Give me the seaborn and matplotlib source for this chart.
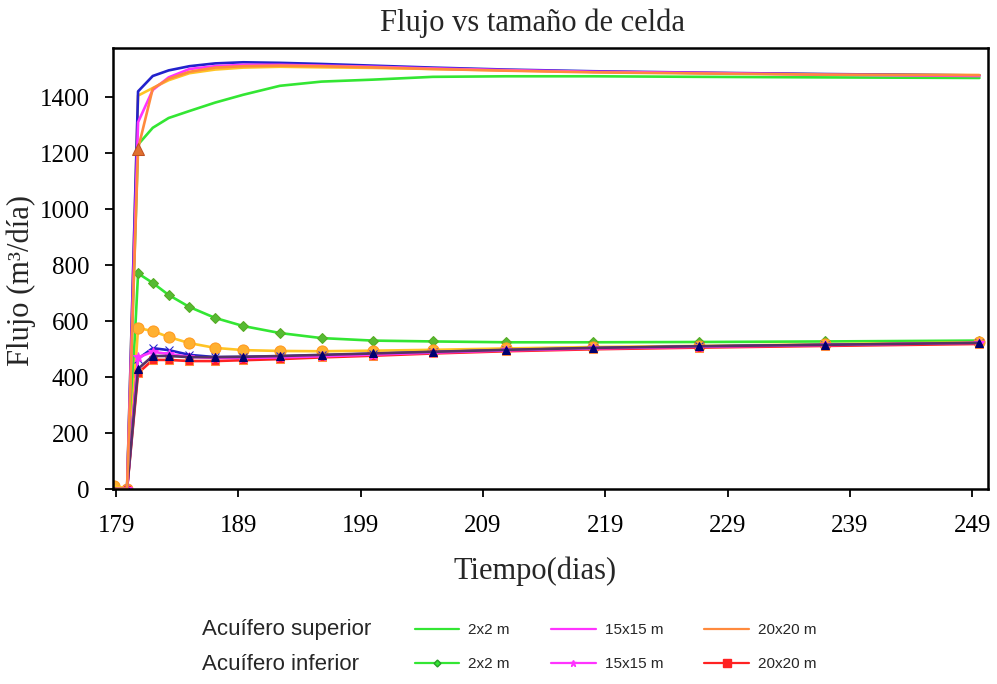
import matplotlib
matplotlib.use("Agg")
import matplotlib.pyplot as plt
import seaborn as sns
import numpy as np
import pandas as pd
from matplotlib.lines import Line2D

# ---- data ----
tiempo = [178.8, 179.9, 180.8, 182.0, 183.3, 185.0, 187.1, 189.4, 192.4,
          195.8, 200.0, 204.9, 210.9, 218.0, 226.7, 237.0, 249.6]

# upper aquifer (no markers)
sup_2x2   = [0, 0, 1230, 1290, 1325, 1350, 1380, 1408, 1440, 1455, 1462, 1472, 1474, 1474, 1472, 1470, 1468]
sup_15x15 = [0, 0, 1310, 1425, 1470, 1500, 1510, 1515, 1515, 1512, 1508, 1502, 1496, 1490, 1486, 1480, 1475]
sup_20x20 = [0, 0, 1215, 1430, 1465, 1490, 1505, 1510, 1512, 1510, 1506, 1500, 1494, 1488, 1484, 1480, 1478]
sup_azul  = [0, 0, 1420, 1475, 1495, 1510, 1520, 1524, 1522, 1518, 1512, 1505, 1498, 1492, 1487, 1482, 1477]
sup_oro   = [12, 0, 1405, 1432, 1460, 1485, 1498, 1505, 1508, 1506, 1504, 1500, 1495, 1490, 1486, 1481, 1478]

# lower aquifer (markers)
inf_2x2   = [0, 0, 770, 736, 693, 650, 611, 582, 557, 539, 530, 527, 524, 524, 525, 527, 530]
inf_15x15 = [0, 0, 470, 490, 482, 472, 468, 468, 470, 474, 480, 487, 495, 502, 508, 514, 522]
inf_20x20 = [0, 0, 414, 461, 461, 457, 457, 460, 464, 470, 476, 484, 492, 499, 505, 511, 518]
inf_oro   = [12, 0, 575, 564, 543, 521, 504, 496, 493, 492, 494, 497, 502, 507, 511, 517, 524]
inf_navy  = [0, 0, 429, 475, 475, 471, 471, 472, 475, 479, 484, 490, 497, 504, 510, 515, 522]
inf_azul  = [0, 0, 465, 503, 496, 479, 471, 472, 474, 478, 483, 489, 496, 503, 509, 515, 521]

legend_sup = ["2x2 m", "15x15 m", "20x20 m"]
legend_inf = ["2x2 m", "15x15 m", "20x20 m"]

xticks = [179, 189, 199, 209, 219, 229, 239, 249]
yticks = [0, 200, 400, 600, 800, 1000, 1200, 1400]

# ---- plot ----
sns.set_theme(style="ticks")
plt.rcParams['font.family'] = ['Liberation Sans', 'DejaVu Sans']
serif = ['Liberation Serif', 'DejaVu Serif']

fig = plt.figure(figsize=(9.97, 6.84), dpi=100)
ax = fig.add_axes([113/997, 1 - 489/684, 875/997, 441/684])

green = "#33e633"
magenta = "#ff33ff"
orange = "#ff8a3d"
blue = "#2222cc"
gold = "#ffc425"
red = "#ff2222"
navy = "#000070"

def line(y, color, marker=None, ms=6, lw=1.9, mec=None, mfc=None):
    sns.lineplot(x=tiempo, y=y, ax=ax, color=color, lw=lw, marker=marker,
                 markersize=ms, markeredgecolor=mec if mec else color,
                 markerfacecolor=mfc if mfc else color,
                 legend=False, estimator=None)

# lower aquifer
line(inf_2x2, green, "D", ms=5.5, mec="#55aa22", mfc="#55bb33")
line(inf_oro, gold, "o", ms=8, mec="#ff9a20", mfc="#ffb030")
line(inf_azul, blue, "x", ms=6)
line(inf_20x20, red, "s", ms=6, mec=orange, mfc=red)
line(inf_15x15, magenta, "*", ms=7)
line(inf_navy, "#553366", "^", ms=6, mec=navy, mfc=navy)

# upper aquifer
line(sup_2x2, green)
line(sup_oro, gold)
line(sup_azul, blue)
line(sup_15x15, magenta)
line(sup_20x20, orange)
sns.lineplot(x=[tiempo[2]], y=[sup_20x20[2]], ax=ax, marker="^", markersize=9,
             color="#e07030", markeredgecolor="#c05020", linestyle="none", legend=False)

ax.set_xlim(178.75, 250.3)
ax.set_ylim(0, 1575)
ax.set_xticks(xticks)
ax.set_yticks(yticks)
ax.tick_params(axis="both", direction="out", length=6, width=1.3, labelsize=18, colors="black")
ax.tick_params(axis="x", pad=13)
ax.tick_params(axis="y", pad=11)
for lab in ax.get_xticklabels() + ax.get_yticklabels():
    lab.set_family(serif)
for s in ax.spines.values():
    s.set_linewidth(1.8)
    s.set_color("black")

fig.text(532/997, 1 - 23/684, "Flujo vs tamaño de celda", family=serif, fontsize=22,
         ha="center", va="center")
ax.set_xlabel("Tiempo(dias)", family=serif, fontsize=22)
ax.xaxis.set_label_coords((535 - 113) / 875, (489 - 571) / 441)
ax.xaxis.label.set_va("center")
ax.set_ylabel("Flujo (m³/día)", family=serif, fontsize=22)
ax.yaxis.set_label_coords((21 - 113) / 875, (489 - 280) / 441)
ax.yaxis.label.set_va("center")

# legend
fig.text(202/997, 1 - 630/684, "Acuífero superior", fontsize=16, va="center", ha="left")
fig.text(202/997, 1 - 664/684, "Acuífero inferior", fontsize=16, va="center", ha="left")

h_sup = [Line2D([], [], color=c, lw=1.6) for c in (green, magenta, orange)]
h_inf = [Line2D([], [], color=green, lw=1.6, marker="D", ms=3.5, markeredgecolor="#2a9a2a"),
         Line2D([], [], color=magenta, lw=1.6, marker="*", ms=5),
         Line2D([], [], color=red, lw=1.6, marker="s", ms=6)]
kw = dict(ncol=3, frameon=False, fontsize=11, handlelength=2.9, handletextpad=0.6,
          columnspacing=2.7, borderpad=0, borderaxespad=0, loc="center left")
fig.legend(h_sup, legend_sup, bbox_to_anchor=(415/997, 1 - 630/684), **kw)
fig.legend(h_inf, legend_inf, bbox_to_anchor=(415/997, 1 - 664/684), **kw)

fig.savefig("out.png", dpi=100)
